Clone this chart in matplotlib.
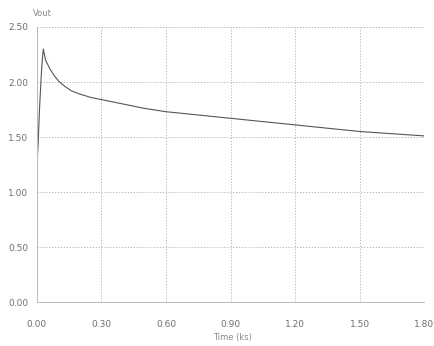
import matplotlib
matplotlib.use("Agg")
import matplotlib.pyplot as plt

# Data
time_ks = [0.0, 0.002, 0.006, 0.012, 0.02, 0.026, 0.03, 0.034, 0.04, 0.05, 0.06, 0.08,
           0.10, 0.13, 0.16, 0.20, 0.25, 0.30, 0.40, 0.50, 0.60, 0.75, 0.90, 1.05,
           1.20, 1.35, 1.50, 1.65, 1.80]
vout = [1.28, 1.30, 1.45, 1.75, 2.05, 2.22, 2.30, 2.26, 2.20, 2.16, 2.12, 2.06,
        2.01, 1.96, 1.92, 1.89, 1.86, 1.84, 1.80, 1.76, 1.73, 1.70, 1.67, 1.64,
        1.61, 1.58, 1.55, 1.53, 1.51]

x_ticks = [0.0, 0.3, 0.6, 0.9, 1.2, 1.5, 1.8]
x_labels = ["0.00", "0.30", "0.60", "0.90", "1.20", "1.50", "1.80"]
y_ticks = [0.0, 0.5, 1.0, 1.5, 2.0, 2.5]
y_labels = ["0.00", "0.50", "1.00", "1.50", "2.00", "2.50"]

fig = plt.figure(figsize=(4.34, 3.46), dpi=100)
ax = fig.add_axes([0.085, 0.127, 0.893, 0.795])

ax.plot(time_ks, vout, color="#555555", lw=0.8)

ax.set_xlim(0, 1.8)
ax.set_ylim(0, 2.5)
ax.set_xticks(x_ticks)
ax.set_xticklabels(x_labels)
ax.set_yticks(y_ticks)
ax.set_yticklabels(y_labels)
ax.tick_params(axis="both", length=0, labelsize=6.5, labelcolor="#707070")
ax.tick_params(axis="x", pad=13)
ax.tick_params(axis="y", pad=6)

ax.grid(True, color="#aaaaaa", linestyle=(0, (1.5, 2)), lw=0.6)
for s in ["top", "right"]:
    ax.spines[s].set_visible(False)
for s in ["left", "bottom"]:
    ax.spines[s].set_color("#bbbbbb")
    ax.spines[s].set_linewidth(0.7)

fig.text(0.076, 0.962, "Vout", fontsize=6, color="#888888", ha="left", va="center")
fig.text(0.535, 0.026, "Time (ks)", fontsize=6, color="#888888", ha="center", va="center")

fig.savefig("out.png", dpi=100, facecolor="white")
